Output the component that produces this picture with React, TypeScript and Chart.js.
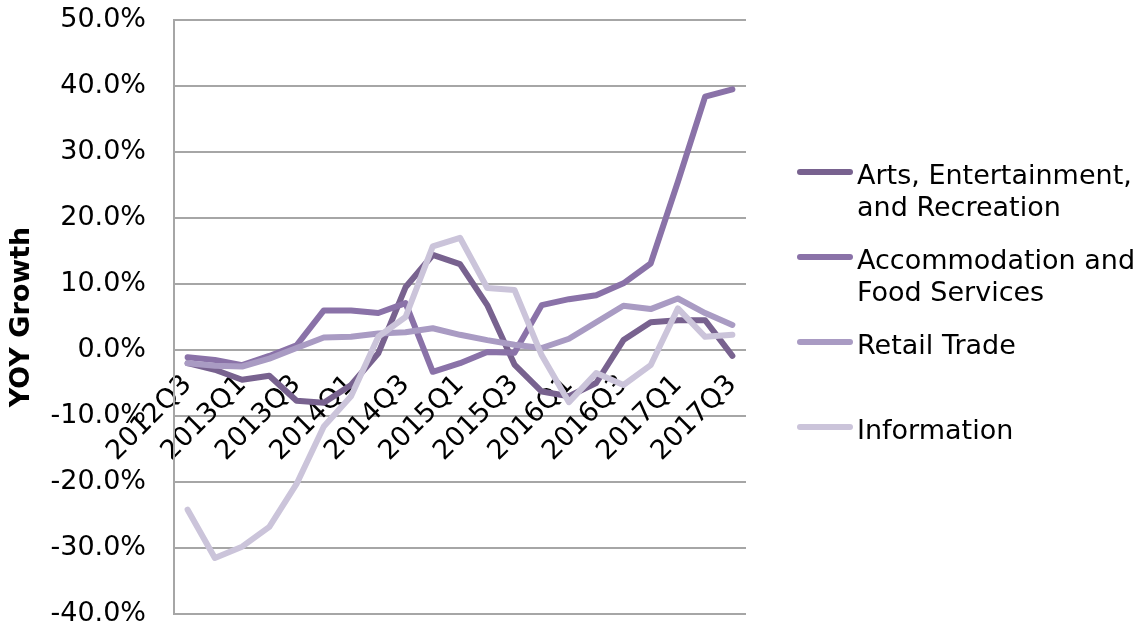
import { useEffect, useRef } from 'react';
import { Chart, registerables } from 'chart.js';

Chart.register(...registerables);

const quarters = [
  '2012Q3', '2012Q4', '2013Q1', '2013Q2', '2013Q3', '2013Q4', '2014Q1', '2014Q2',
  '2014Q3', '2014Q4', '2015Q1', '2015Q2', '2015Q3', '2015Q4', '2016Q1', '2016Q2',
  '2016Q3', '2016Q4', '2017Q1', '2017Q2', '2017Q3',
];

const artsEntertainment = [-2.0, -3.0, -4.5, -3.9, -7.7, -8.0, -5.3, -0.5, 9.5, 14.4, 13.0, 6.8, -2.2, -6.3, -7.0, -5.0, 1.5, 4.2, 4.5, 4.5, -0.9];
const accommodationFood = [-1.1, -1.5, -2.3, -0.9, 0.7, 6.0, 6.0, 5.6, 7.1, -3.3, -2.0, -0.3, -0.4, 6.8, 7.7, 8.3, 10.1, 13.1, 25.5, 38.4, 39.5];
const retailTrade = [-2.0, -2.4, -2.5, -1.3, 0.3, 1.9, 2.0, 2.5, 2.7, 3.3, 2.3, 1.5, 0.8, 0.3, 1.7, 4.2, 6.7, 6.2, 7.8, 5.6, 3.8];
const information = [-24.2, -31.5, -29.8, -26.8, -20.3, -11.6, -7.0, 2.0, 5.0, 15.7, 17.0, 9.4, 9.1, -0.8, -7.9, -3.5, -5.3, -2.3, 6.3, 2.0, 2.3];

const seriesNames = [
  ['Arts, Entertainment,', 'and Recreation'],
  ['Accommodation and', 'Food Services'],
  ['Retail Trade'],
  ['Information'],
];
const seriesData = [artsEntertainment, accommodationFood, retailTrade, information];
const seriesColors = ['#78628f', '#8a72a8', '#a99bc3', '#cbc4da'];

const yMin = -40;
const yMax = 50;
const yStep = 10;
const yTitle = 'YOY Growth';

const FONT = "'DejaVu Sans', Verdana, sans-serif";

export default function App() {
  const canvasRef = useRef<HTMLCanvasElement | null>(null);

  useEffect(() => {
    if (!canvasRef.current) return;
    const chart = new Chart(canvasRef.current, {
      type: 'line',
      data: {
        labels: quarters,
        datasets: seriesData.map((d, i) => ({
          label: seriesNames[i].join(' '),
          data: d,
          borderColor: seriesColors[i],
          backgroundColor: seriesColors[i],
          borderWidth: 6,
          borderCapStyle: 'round' as const,
          borderJoinStyle: 'round' as const,
          pointRadius: 0,
          pointHoverRadius: 0,
          tension: 0,
          fill: false,
          order: seriesData.length - 1 - i,
        })),
      },
      options: {
        responsive: false,
        animation: false,
        layout: { padding: { left: 0, top: 20, right: 389, bottom: 14 } },
        plugins: {
          legend: { display: false },
          tooltip: { enabled: false },
        },
        scales: {
          x: {
            type: 'category',
            position: { y: 0 } as any,
            offset: true,
            z: 1,
            grid: { display: false, drawTicks: false },
            border: { display: false },
            ticks: {
              autoSkip: false,
              minRotation: 45,
              maxRotation: 45,
              padding: 19,
              color: '#000',
              font: { family: FONT, size: 27 },
              callback: (_v: any, i: number) => (i % 2 === 0 ? quarters[i] : ''),
            },
          },
          y: {
            min: yMin,
            max: yMax,
            afterFit: (scale: any) => {
              scale.width = 174;
            },
            grid: {
              color: '#a6a6a6',
              lineWidth: 2,
              drawTicks: true,
              tickLength: 26,
              tickColor: 'rgba(0,0,0,0)',
            },
            border: { display: true, color: '#a6a6a6', width: 2 },
            ticks: {
              stepSize: yStep,
              padding: 2,
              color: '#000',
              font: { family: FONT, size: 27, lineHeight: 0.85 },
              callback: (v: any) => Number(v).toFixed(1) + '%',
            },
            title: {
              display: true,
              text: yTitle,
              color: '#000',
              padding: 6,
              font: { family: FONT, size: 27, weight: 'bold' },
            },
          },
        },
      },
    });
    return () => chart.destroy();
  }, []);

  return (
    <div style={{ position: 'absolute', left: 0, top: 0, width: 1135, height: 628, background: '#fff', overflow: 'hidden' }}>
      <canvas ref={canvasRef} width={1135} height={628} style={{ position: 'absolute', left: 0, top: 0 }} />
      {seriesNames.map((lines, i) => (
        <div
          key={i}
          style={{ position: 'absolute', left: 797, top: 159 + i * 85, fontFamily: FONT, fontSize: 27, lineHeight: '32px', color: '#000' }}
        >
          <div style={{ position: 'absolute', left: 0, top: 10, width: 56, height: 6, borderRadius: 3, background: seriesColors[i] }} />
          <div style={{ marginLeft: 60, whiteSpace: 'nowrap' }}>
            {lines.map((t, j) => (
              <div key={j}>{t}</div>
            ))}
          </div>
        </div>
      ))}
    </div>
  );
}
